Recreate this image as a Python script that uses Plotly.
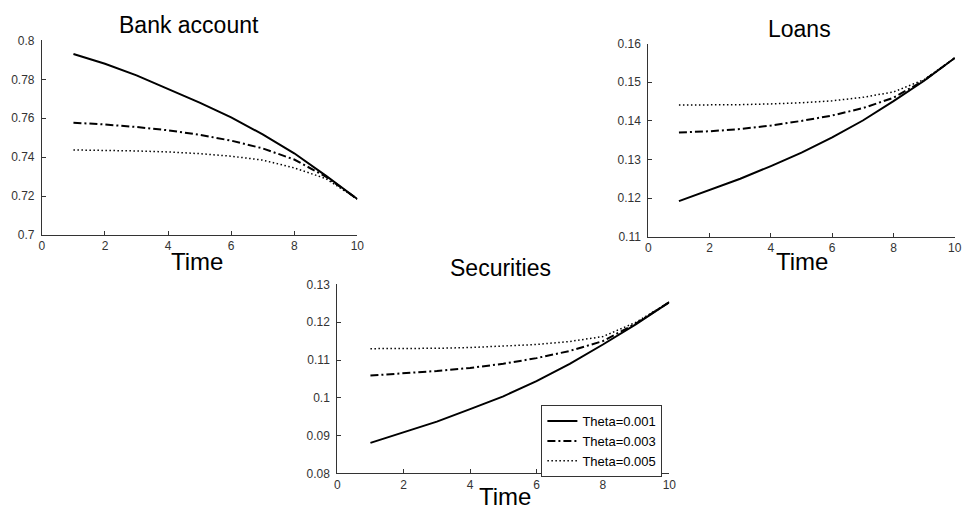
import plotly.graph_objects as go

W, H = 971, 523

# ---- data ----
time = [1, 2, 3, 4, 5, 6, 7, 8, 9, 10]

bank_t001 = [0.7930, 0.7880, 0.7820, 0.7750, 0.7680, 0.7605, 0.7517, 0.7420, 0.7305, 0.7185]
bank_t003 = [0.7577, 0.7568, 0.7555, 0.7538, 0.7515, 0.7485, 0.7445, 0.7388, 0.7300, 0.7185]
bank_t005 = [0.7437, 0.7435, 0.7432, 0.7427, 0.7418, 0.7405, 0.7385, 0.7345, 0.7290, 0.7185]

loans_t001 = [0.1192, 0.1220, 0.1250, 0.1283, 0.1318, 0.1357, 0.1401, 0.1451, 0.1504, 0.1563]
loans_t003 = [0.1370, 0.1373, 0.1379, 0.1388, 0.1400, 0.1414, 0.1433, 0.1460, 0.1505, 0.1563]
loans_t005 = [0.1441, 0.1441, 0.1442, 0.1444, 0.1447, 0.1452, 0.1461, 0.1475, 0.1507, 0.1563]

sec_t001 = [0.0881, 0.0908, 0.0937, 0.0970, 0.1004, 0.1044, 0.1090, 0.1141, 0.1195, 0.1253]
sec_t003 = [0.1059, 0.1064, 0.1071, 0.1079, 0.1090, 0.1105, 0.1124, 0.1150, 0.1197, 0.1253]
sec_t005 = [0.1130, 0.1130, 0.1131, 0.1133, 0.1136, 0.1141, 0.1149, 0.1162, 0.1200, 0.1253]

series_names = ["Theta=0.001", "Theta=0.003", "Theta=0.005"]
panel_titles = ["Bank account", "Loans", "Securities"]
x_label = "Time"

x_ticks = [0, 2, 4, 6, 8, 10]
bank_yticks = [0.70, 0.72, 0.74, 0.76, 0.78, 0.80]
bank_ylabels = ["0.7", "0.72", "0.74", "0.76", "0.78", "0.8"]
loans_yticks = [0.11, 0.12, 0.13, 0.14, 0.15, 0.16]
loans_ylabels = ["0.11", "0.12", "0.13", "0.14", "0.15", "0.16"]
sec_yticks = [0.08, 0.09, 0.10, 0.11, 0.12, 0.13]
sec_ylabels = ["0.08", "0.09", "0.1", "0.11", "0.12", "0.13"]

# ---- styling ----
FONT = "Liberation Sans, Arial, sans-serif"
styles = [
    dict(color="black", width=2, dash="solid"),
    dict(color="black", width=2, dash="8px,3px,2px,3px"),
    dict(color="black", width=1.5, dash="1.5px,2.5px"),
]

# plot boxes in pixels: (left, right, top, bottom)
boxes = [
    (39.3, 358.0, 34.3, 234.3),
    (652.0, 961.7, 37.7, 236.0),
    (337.7, 673.3, 285.0, 479.3),
]

fig = go.Figure()

panels = [
    ([bank_t001, bank_t003, bank_t005], bank_yticks, bank_ylabels),
    ([loans_t001, loans_t003, loans_t005], loans_yticks, loans_ylabels),
    ([sec_t001, sec_t003, sec_t005], sec_yticks, sec_ylabels),
]

tickfont = dict(family=FONT, size=12, color="#333333")

for i, (ys, yt, yl) in enumerate(panels):
    sfx = "" if i == 0 else str(i + 1)
    for j, y in enumerate(ys):
        fig.add_trace(go.Scatter(
            x=time, y=y, mode="lines", name=series_names[j],
            line=styles[j], xaxis="x" + sfx, yaxis="y" + sfx,
            showlegend=(i == 2), legendgroup=series_names[j],
        ))
    l, r, t, b = boxes[i]
    axcommon = dict(showline=True, linecolor="#333333", linewidth=1, mirror=False,
                    showgrid=False, zeroline=False, ticks="inside", ticklen=4,
                    tickcolor="#333333", tickfont=tickfont)
    fig.layout["xaxis" + sfx] = dict(
        domain=[l / W, r / W], anchor="y" + sfx, range=[0, 10],
        tickvals=x_ticks, ticktext=[str(v) for v in x_ticks], **axcommon)
    fig.layout["yaxis" + sfx] = dict(
        domain=[1 - b / H, 1 - t / H], anchor="x" + sfx, range=[yt[0], yt[-1]],
        tickvals=yt, ticktext=yl, ticklabelstandoff=4, **axcommon)

# titles and x labels
title_pos = [(188, 19), (805, 23), (503, 268)]
xlabel_pos = [(196, 261), (807, 261), (507, 503)]
for i in range(3):
    tx, ty = title_pos[i]
    fig.add_annotation(x=tx / W, y=1 - ty / H, xref="paper", yref="paper",
                       text=panel_titles[i], showarrow=False,
                       xanchor="center", yanchor="middle",
                       font=dict(family=FONT, size=23, color="black"))
    lx, ly = xlabel_pos[i]
    fig.add_annotation(x=lx / W, y=1 - ly / H, xref="paper", yref="paper",
                       text=x_label, showarrow=False,
                       xanchor="center", yanchor="middle",
                       font=dict(family=FONT, size=24, color="black"))

fig.update_layout(
    width=W, height=H,
    margin=dict(l=0, r=0, t=0, b=0),
    paper_bgcolor="white", plot_bgcolor="white",
    legend=dict(x=544 / W, y=1 - 409 / H, xanchor="left", yanchor="top",
                bgcolor="white", bordercolor="#333333", borderwidth=1,
                font=dict(family=FONT, size=13, color="black"),
                tracegroupgap=0, itemwidth=30),
)

fig.write_html("out.html")
